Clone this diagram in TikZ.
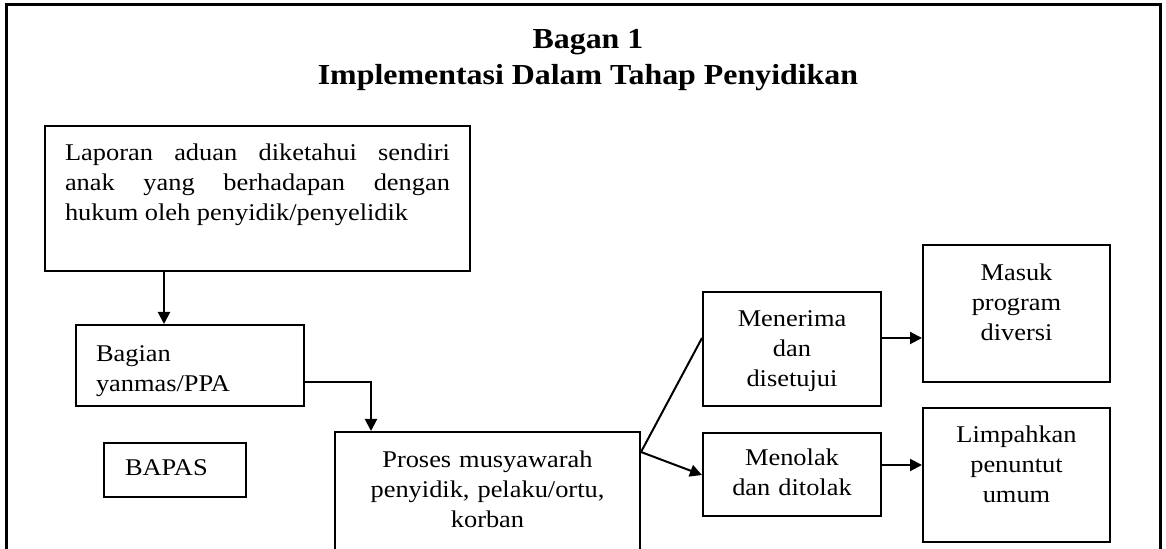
\documentclass[tikz,border=0pt]{standalone}
\usepackage{fontspec}
\setmainfont{Liberation Serif}[FakeStretch=1.1]
\usetikzlibrary{positioning,arrows.meta}

\begin{document}
\begin{tikzpicture}[x=0.5pt,y=-0.5pt,>={Triangle[length=6pt,width=6pt]},
    kotak/.style={draw,line width=1pt,inner sep=0pt,anchor=north west,align=center,font=\fontsize{12}{15}\selectfont},
    judul/.style={anchor=base,font=\fontsize{14.5}{19}\selectfont\bfseries},
    panah/.style={->,line width=1pt}]
    \clip (0,0) rectangle (1166,549);
    \draw[line width=1.5pt] (6,560) -- (6,5) -- (1160,5) -- (1160,560);
    \node[judul] (j1) at (588,49) {Bagan 1};
    \node[judul] (j2) at (588,85) {Implementasi Dalam Tahap Penyidikan};

    \node[kotak,align=justify,minimum width=212.5pt,text width=192.5pt,text height=17.5pt,text depth=55pt] (lapor) at (44,125)
      {Laporan aduan diketahui sendiri\linebreak anak yang berhadapan dengan\linebreak hukum oleh penyidik/penyelidik};
    \node[kotak,align=left,minimum width=114pt,text width=94pt,text height=18.5pt,text depth=22pt] (bagian) at (75,324) {Bagian\\yanmas/PPA};
    \node[kotak,align=left,minimum width=71pt,text width=50pt,text height=16.5pt,text depth=10.5pt] (bapas) at (103,442) {BAPAS};
    \node[kotak,minimum width=152.5pt,text width=140pt,text height=17.5pt,text depth=42.5pt] (proses) at (334,431) {Proses musyawarah\\penyidik, pelaku/ortu,\\korban};
    \node[kotak,minimum width=89pt,text width=80pt,text height=17.5pt,text depth=39.5pt] (terima) at (702,291) {Menerima\\dan\\disetujui};
    \node[kotak,minimum width=89pt,text width=80pt,text height=16.5pt,text depth=25pt] (tolak) at (702,432) {Menolak\\dan ditolak};
    \node[kotak,minimum width=93.5pt,text width=84pt,text height=18pt,text depth=50.5pt] (diversi) at (922,244) {Masuk\\program\\diversi};
    \node[kotak,minimum width=93.5pt,text width=84pt,text height=17.5pt,text depth=49.5pt] (limpah) at (922,407) {Limpahkan\\penuntut\\umum};

    \coordinate (k1) at (164,0);
    \coordinate (k2) at (371,382);
    \coordinate (k3) at (0,452);
    \coordinate (k4) at (0,338);
    \coordinate (k5) at (0,475);
    \coordinate (k6) at (0,465);

    \draw[panah] (lapor.south -| k1) -- (bagian.north -| k1);
    \draw[panah] (bagian.east |- k2) -| (proses.north -| k2);
    \draw[line width=1pt] (proses.east |- k3) -- (terima.west |- k4);
    \draw[panah] (proses.east |- k3) -- (tolak.west |- k5);
    \draw[panah] (terima.east |- k4) -- (diversi.west |- k4);
    \draw[panah] (tolak.east |- k6) -- (limpah.west |- k6);
\end{tikzpicture}
\end{document}
